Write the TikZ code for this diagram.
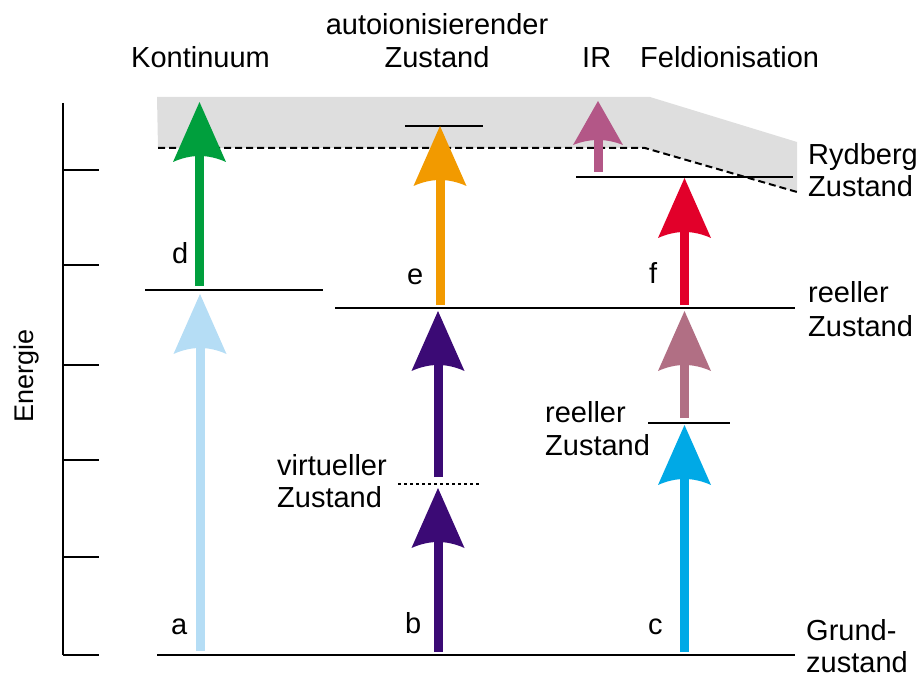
\documentclass[tikz,border=0pt]{standalone}
\usepackage{fontspec}
\setmainfont{Liberation Sans}
\usetikzlibrary{arrows.meta}

\pgfdeclarearrow{
  name = EHead,
  parameters = {\the\pgfarrowlength,\the\pgfarrowwidth,\the\pgfarrowinset},
  setup code = {
    \pgfarrowssettipend{0pt}
    \pgfarrowssetlineend{-0.5\pgfarrowlength}
    \pgfarrowssavethe\pgfarrowlength
    \pgfarrowssavethe\pgfarrowwidth
    \pgfarrowssavethe\pgfarrowinset
  },
  drawing code = {
    \pgfpathmoveto{\pgfqpoint{0pt}{0pt}}
    \pgfpathlineto{\pgfpoint{-\pgfarrowlength}{0.5\pgfarrowwidth}}
    \pgfpathquadraticcurveto{\pgfpoint{-\pgfarrowlength+\pgfarrowinset}{0.25\pgfarrowwidth}}{\pgfpoint{-\pgfarrowlength+\pgfarrowinset}{0pt}}
    \pgfpathquadraticcurveto{\pgfpoint{-\pgfarrowlength+\pgfarrowinset}{-0.25\pgfarrowwidth}}{\pgfpoint{-\pgfarrowlength}{-0.5\pgfarrowwidth}}
    \pgfpathclose
    \pgfusepathqfill
  },
  defaults = {length=60pt, width=53pt, inset=6pt}
}

\definecolor{bandgray}{HTML}{DEDEDE}
\definecolor{cA}{HTML}{B5DDF5}
\definecolor{cD}{HTML}{009F3D}
\definecolor{cB}{HTML}{3B0A75}
\definecolor{cE}{HTML}{F29A00}
\definecolor{cC}{HTML}{00A9E6}
\definecolor{cM}{HTML}{B16F84}
\definecolor{cF}{HTML}{E2002A}
\definecolor{cIR}{HTML}{B35787}

\tikzset{
  lbl/.style={font=\fontsize{29}{33}\selectfont, inner sep=0pt, anchor=base west},
  lblc/.style={font=\fontsize{29}{33}\selectfont, inner sep=0pt, anchor=base},
  level/.style={line width=2pt},
  axisline/.style={line width=2pt},
  transition/.style={line width=9pt, -{EHead}},
  smalltransition/.style={line width=9pt, -{EHead[length=44pt,width=50pt,inset=5pt]}},
}

\begin{document}
\begin{tikzpicture}[x=1pt,y=-1pt]
\useasboundingbox (0,0) rectangle (919,679);

% continuum band
\fill[bandgray] (157,97) -- (650,97) -- (797,142) -- (797,192) -- (645,148) -- (158,148) -- cycle;
\coordinate (ionL) at (158,148);
\coordinate (ionK) at (645,148);
\coordinate (ionR) at (797,192);
\draw[line width=2pt, dash pattern=on 7pt off 4pt] (ionL) -- (ionK) -- (ionR);

% energy axis
\coordinate (axTop) at (63,103);
\coordinate (axBot) at (63,655);
\draw[axisline] (axTop) -- (axBot);
\foreach \y [count=\i] in {170,265,365,460,557,655}{
  \coordinate (t\i a) at (63,\y);
  \coordinate (t\i b) at (99,\y);
  \draw[axisline] (t\i a) -- (t\i b);
}
\node[font=\fontsize{27}{30}\selectfont, inner sep=0pt, rotate=90, anchor=base] (energie) at (33,376) {Energie};

% levels
\coordinate (g0) at (157,655); \coordinate (g1) at (795,655);
\draw[level] (g0) -- (g1);
\coordinate (la0) at (145,290); \coordinate (la1) at (323,290);
\draw[level] (la0) -- (la1);
\coordinate (r0) at (335,308); \coordinate (r1) at (795,308);
\draw[level] (r0) -- (r1);
\coordinate (ai0) at (405,126); \coordinate (ai1) at (483,126);
\draw[level] (ai0) -- (ai1);
\coordinate (ry0) at (576,177); \coordinate (ry1) at (793,177);
\draw[level] (ry0) -- (ry1);
\coordinate (ri0) at (648,423); \coordinate (ri1) at (730,423);
\draw[level] (ri0) -- (ri1);
\coordinate (v0) at (398,484); \coordinate (v1) at (480,484);
\draw[line width=2pt, dash pattern=on 3pt off 3pt] (v0) -- (v1);

% transitions
\coordinate (a0) at (200,651); \coordinate (a1) at (200,294);
\draw[transition, cA] (a0) -- (a1);
\coordinate (d0) at (199.5,286); \coordinate (d1) at (199.5,102);
\draw[transition, cD] (d0) -- (d1);
\coordinate (b0) at (438,652); \coordinate (b1) at (438,488);
\draw[transition, cB] (b0) -- (b1);
\coordinate (b2) at (438,477); \coordinate (b3) at (438,311);
\draw[transition, cB] (b2) -- (b3);
\coordinate (e0) at (440,305); \coordinate (e1) at (440,126);
\draw[transition, cE] (e0) -- (e1);
\coordinate (c0) at (684.5,652); \coordinate (c1) at (684.5,425);
\draw[transition, cC] (c0) -- (c1);
\coordinate (m0) at (684.5,418); \coordinate (m1) at (684.5,311);
\draw[transition, cM] (m0) -- (m1);
\coordinate (f0) at (684.5,305); \coordinate (f1) at (684.5,178);
\draw[transition, cF] (f0) -- (f1);
\coordinate (ir0) at (598,172); \coordinate (ir1) at (598,101);
\draw[smalltransition, cIR] (ir0) -- (ir1);

% labels
\node[lbl] (kont) at (131,68) {Kontinuum};
\node[lblc] (auto1) at (437,35) {autoionisierender};
\node[lblc] (auto2) at (437,68) {Zustand};
\node[lbl] (ir) at (582,68) {IR};
\node[lbl] (feld) at (640,68) {Feldionisation};
\node[lbl] (ryd1) at (808,165) {Rydberg};
\node[lbl] (ryd2) at (808,197) {Zustand};
\node[lbl] (re1) at (808,303) {reeller};
\node[lbl] (re2) at (808,337) {Zustand};
\node[lbl] (rm1) at (545,422) {reeller};
\node[lbl] (rm2) at (545,455) {Zustand};
\node[lbl] (vi1) at (277,475) {virtueller};
\node[lbl] (vi2) at (277,507) {Zustand};
\node[lbl] (gr1) at (806,640) {Grund-};
\node[lbl] (gr2) at (806,672) {zustand};
\node[lbl] (la) at (171,634) {a};
\node[lbl] (lb) at (405,633) {b};
\node[lbl] (lc) at (648,634) {c};
\node[lbl] (ld) at (172,264) {d};
\node[lbl] (le) at (407,285) {e};
\node[lbl] (lf) at (649,284) {f};
\end{tikzpicture}
\end{document}
